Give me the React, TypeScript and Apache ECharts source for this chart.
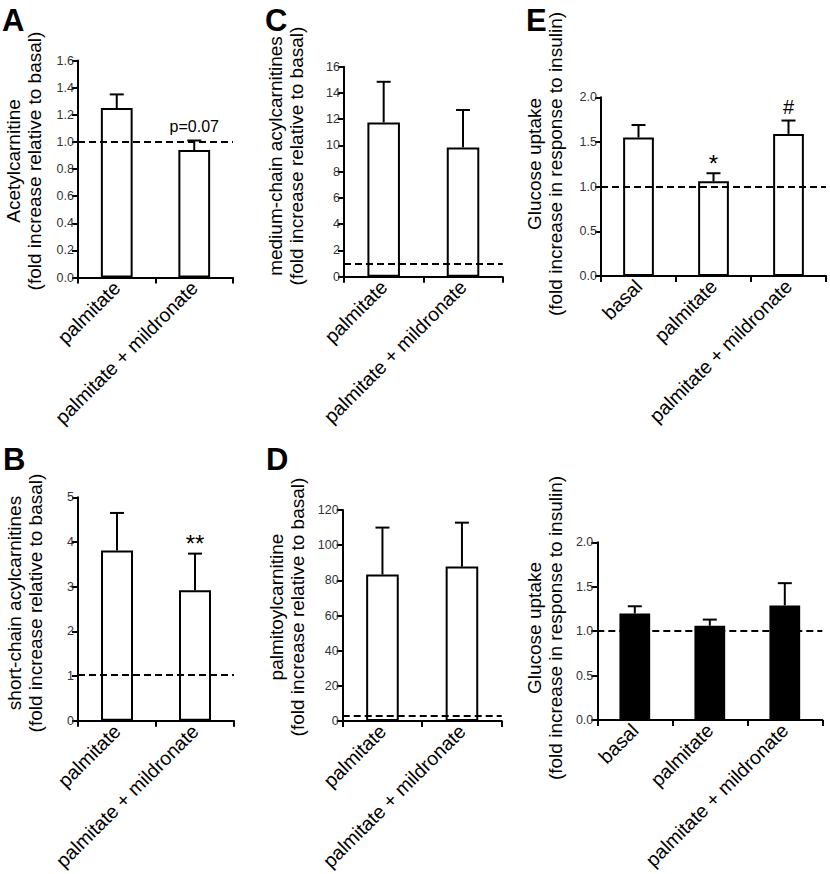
import React, { useEffect, useRef } from "react";
import * as echarts from "echarts";

const catsTwo = ["palmitate", "palmitate + mildronate"];
const catsThree = ["basal", "palmitate", "palmitate + mildronate"];

const meanA = [1.25, 0.94];
const upperA = [1.35, 1.01];
const noteA = ["", "p=0.07"];
const refA = 1.0;

const meanB = [3.81, 2.92];
const upperB = [4.65, 3.74];
const noteB = ["", "**"];
const refB = 1.04;

const meanC = [11.75, 9.85];
const upperC = [14.85, 12.7];
const noteC = ["", ""];
const refC = 1.0;

const meanD = [83.3, 87.8];
const upperD = [110.0, 112.8];
const noteD = ["", ""];
const refD = 3.2;

const meanE1 = [1.55, 1.06, 1.59];
const upperE1 = [1.69, 1.15, 1.74];
const noteE1 = ["", "*", "#"];
const refE1 = 1.0;

const meanE2 = [1.2, 1.06, 1.29];
const upperE2 = [1.28, 1.13, 1.54];
const noteE2 = ["", "", ""];
const refE2 = 1.0;

const FONT = "'Liberation Sans', Arial, Helvetica, sans-serif";

type Panel = {
  cats: string[];
  mean: number[];
  upper: number[];
  notes: string[];
  ref: number;
  grid: { left: number; top: number; width: number; height: number };
  max: number;
  interval: number;
  decimals: number;
  fill: string;
  yName: string;
  yNameX: number;
  yNameY: number;
};

const panels: Panel[] = [
  {
    cats: catsTwo, mean: meanA, upper: upperA, notes: noteA, ref: refA,
    grid: { left: 78, top: 60.5, width: 155, height: 217 },
    max: 1.6, interval: 0.2, decimals: 1, fill: "#fff",
    yName: "Acetylcarnitine\n(fold increase relative to basal)", yNameX: 24, yNameY: 161,
  },
  {
    cats: catsTwo, mean: meanB, upper: upperB, notes: noteB, ref: refB,
    grid: { left: 78, top: 497.3, width: 156, height: 223.5 },
    max: 5, interval: 1, decimals: 0, fill: "#fff",
    yName: "short-chain acylcarnitines\n(fold increase relative to basal)", yNameX: 25, yNameY: 603,
  },
  {
    cats: catsTwo, mean: meanC, upper: upperC, notes: noteC, ref: refC,
    grid: { left: 344, top: 66.7, width: 158.7, height: 210 },
    max: 16, interval: 2, decimals: 0, fill: "#fff",
    yName: "medium-chain acylcarnitines\n(fold increase relative to basal)", yNameX: 286, yNameY: 156,
  },
  {
    cats: catsTwo, mean: meanD, upper: upperD, notes: noteD, ref: refD,
    grid: { left: 342.7, top: 510, width: 159, height: 211 },
    max: 120, interval: 20, decimals: 0, fill: "#fff",
    yName: "palmitoylcarnitine\n(fold increase relative to basal)", yNameX: 287, yNameY: 607,
  },
  {
    cats: catsThree, mean: meanE1, upper: upperE1, notes: noteE1, ref: refE1,
    grid: { left: 601, top: 97.3, width: 225, height: 178.7 },
    max: 2, interval: 0.5, decimals: 1, fill: "#fff",
    yName: "Glucose uptake\n(fold increase in response to insulin)", yNameX: 545, yNameY: 164,
  },
  {
    cats: catsThree, mean: meanE2, upper: upperE2, notes: noteE2, ref: refE2,
    grid: { left: 597.3, top: 542.3, width: 225, height: 177.7 },
    max: 2, interval: 0.5, decimals: 1, fill: "#000",
    yName: "Glucose uptake\n(fold increase in response to insulin)", yNameX: 545, yNameY: 628,
  },
];

const letters = [
  { t: "A", x: 2, y: 5 },
  { t: "B", x: 3, y: 444 },
  { t: "C", x: 265, y: 5 },
  { t: "D", x: 266, y: 444 },
  { t: "E", x: 526, y: 5 },
];

function noteFont(t: string) {
  if (t.indexOf("*") >= 0) return { size: 24, off: -2 };
  if (t === "#") return { size: 20, off: 4 };
  return { size: 16, off: 6 };
}

export default function App() {
  const ref = useRef<HTMLDivElement>(null);
  useEffect(() => {
    if (!ref.current) return;
    const chart = echarts.init(ref.current, undefined, { renderer: "svg" });
    const grid: any[] = [];
    const xAxis: any[] = [];
    const yAxis: any[] = [];
    const series: any[] = [];
    const graphic: any[] = [];
    panels.forEach((p, k) => {
      grid.push({ ...p.grid });
      xAxis.push({
        type: "category",
        gridIndex: k,
        data: p.cats,
        axisLine: { lineStyle: { color: "#000", width: 2 } },
        axisTick: { show: true, length: 6, lineStyle: { color: "#000", width: 2 } },
        axisLabel: {
          rotate: 45, fontSize: 19.5, color: "#000", fontFamily: FONT, margin: 7, interval: 0,
        },
        splitLine: { show: false },
      });
      yAxis.push({
        type: "value",
        gridIndex: k,
        min: 0,
        max: p.max,
        interval: p.interval,
        axisLine: { show: true, lineStyle: { color: "#000", width: 2 } },
        axisTick: { show: true, length: 6, lineStyle: { color: "#000", width: 2 } },
        axisLabel: {
          fontSize: 12.5, color: "#333", fontFamily: FONT, margin: 4,
          formatter: (v: number) => v.toFixed(p.decimals),
        },
        splitLine: { show: false },
      });
      series.push({
        type: "line",
        xAxisIndex: k,
        yAxisIndex: k,
        data: [],
        z: 1,
        markLine: {
          silent: true,
          symbol: "none",
          label: { show: false },
          lineStyle: { color: "#000", type: [7, 4], width: 2 },
          data: [{ yAxis: p.ref }],
        },
      });
      series.push({
        type: "bar",
        xAxisIndex: k,
        yAxisIndex: k,
        data: p.mean,
        barWidth: "41%",
        z: 3,
        itemStyle: { color: p.fill, borderColor: "#000", borderWidth: 2 },
      });
      const notes = p.notes;
      series.push({
        type: "custom",
        xAxisIndex: k,
        yAxisIndex: k,
        z: 4,
        clip: false,
        data: p.mean.map((m, i) => [i, m, p.upper[i]]),
        encode: { x: 0, y: 1 },
        renderItem: (params: any, api: any) => {
          const i = api.value(0);
          const m = api.value(1);
          const u = api.value(2);
          const p0 = api.coord([i, m]);
          const p1 = api.coord([i, u]);
          const half = 7;
          const children: any[] = [
            { type: "line", shape: { x1: p0[0], y1: p0[1], x2: p1[0], y2: p1[1] }, style: { stroke: "#000", lineWidth: 2 } },
            { type: "line", shape: { x1: p1[0] - half, y1: p1[1], x2: p1[0] + half, y2: p1[1] }, style: { stroke: "#000", lineWidth: 2 } },
          ];
          const note = notes[params.dataIndex];
          if (note) {
            const f = noteFont(note);
            children.push({
              type: "text",
              style: {
                text: note, x: p1[0], y: p1[1] - f.off,
                textAlign: "center", textVerticalAlign: "bottom",
                fontSize: f.size, fontFamily: FONT, fill: "#000",
              },
            });
          }
          return { type: "group", children };
        },
      });
      graphic.push({
        type: "text",
        x: p.yNameX,
        y: p.yNameY,
        rotation: Math.PI / 2,
        style: {
          text: p.yName, textAlign: "center", textVerticalAlign: "middle",
          fontSize: 19, lineHeight: 21, fontFamily: FONT, fill: "#000",
        },
      });
    });
    letters.forEach((l) => {
      graphic.push({
        type: "text",
        x: l.x,
        y: l.y,
        style: { text: l.t, fontSize: 31, fontWeight: "bold", fontFamily: FONT, fill: "#000", textVerticalAlign: "top" },
      });
    });
    chart.setOption({
      animation: false,
      backgroundColor: "#fff",
      grid,
      xAxis,
      yAxis,
      series,
      graphic,
    });
    return () => chart.dispose();
  }, []);
  return (
    <div
      ref={ref}
      style={{ position: "absolute", left: 0, top: 0, width: 830, height: 874, background: "#fff" }}
    />
  );
}
